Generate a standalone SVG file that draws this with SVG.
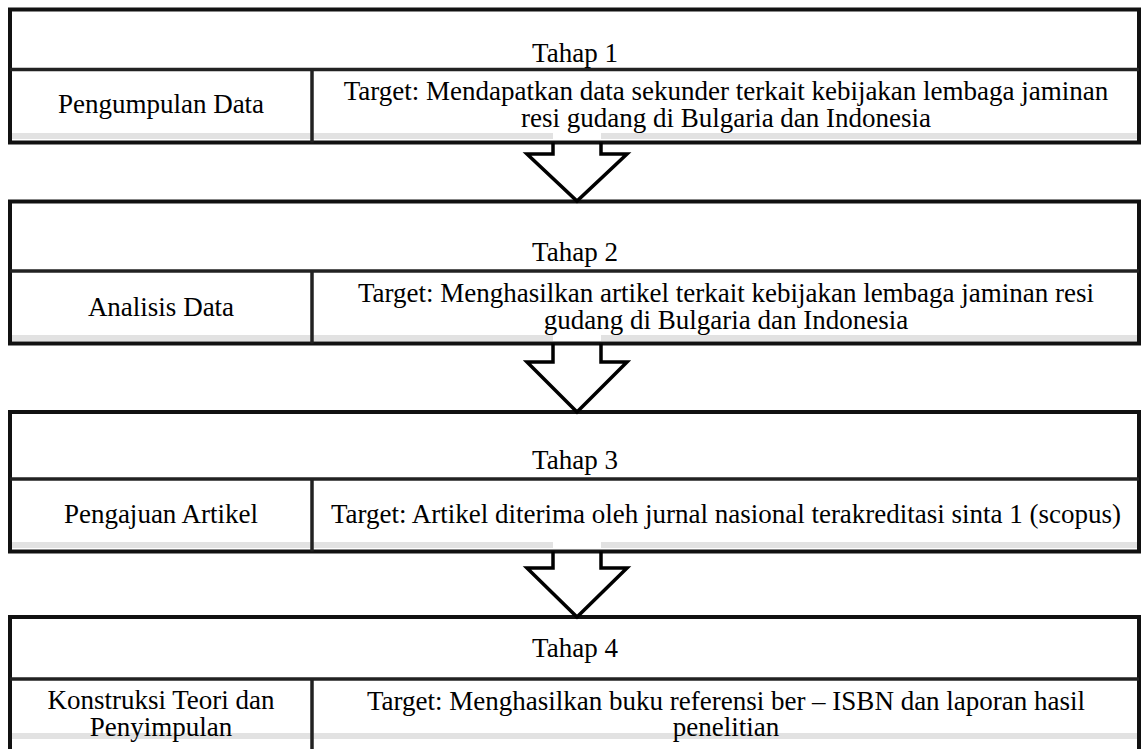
<svg xmlns="http://www.w3.org/2000/svg" width="1142" height="749" viewBox="0 0 1142 749">
<style>
.box{fill:#fff;stroke:#111;stroke-width:4}
.div{stroke:#222;stroke-width:3.5;fill:none}
.shade{fill:#e2e2e2}
.arrow{fill:none;stroke:#000;stroke-width:3.5;stroke-linejoin:miter}
text{font-family:"Liberation Serif","Times New Roman",serif;font-size:27px;fill:#000;text-anchor:middle}
</style>
<rect width="1142" height="749" fill="#fff"/>
<g id="tahap1">
<rect class="box" x="10" y="9.5" width="1129" height="133"/>
<rect class="shade" x="12" y="133" width="541" height="6"/>
<rect class="shade" x="601" y="133" width="536" height="6"/>
<line class="div" x1="10" y1="69.5" x2="1139" y2="69.5"/>
<line class="div" x1="312" y1="69.5" x2="312" y2="142.5"/>
<text x="575" y="62">Tahap 1</text>
<text x="161" y="113">Pengumpulan Data</text>
<text x="726" y="99.5">Target: Mendapatkan data sekunder terkait kebijakan lembaga jaminan</text>
<text x="726" y="126.5">resi gudang di Bulgaria dan Indonesia</text>
</g>
<g id="tahap2">
<rect class="box" x="10" y="201.5" width="1129" height="142"/>
<rect class="shade" x="12" y="335" width="541" height="6"/>
<rect class="shade" x="601" y="335" width="536" height="6"/>
<line class="div" x1="10" y1="271" x2="1139" y2="271"/>
<line class="div" x1="312" y1="271" x2="312" y2="343.5"/>
<text x="575" y="260.5">Tahap 2</text>
<text x="161" y="316">Analisis Data</text>
<text x="726" y="302">Target: Menghasilkan artikel terkait kebijakan lembaga jaminan resi</text>
<text x="726" y="329">gudang di Bulgaria dan Indonesia</text>
</g>
<g id="tahap3">
<rect class="box" x="10" y="412" width="1129" height="139.5"/>
<rect class="shade" x="12" y="542" width="541" height="6"/>
<rect class="shade" x="601" y="542" width="536" height="6"/>
<line class="div" x1="10" y1="479" x2="1139" y2="479"/>
<line class="div" x1="312" y1="479" x2="312" y2="551.5"/>
<text x="575" y="468.5">Tahap 3</text>
<text x="161" y="523">Pengajuan Artikel</text>
<text x="726" y="523">Target: Artikel diterima oleh jurnal nasional terakreditasi sinta 1 (scopus)</text>
</g>
<g id="tahap4">
<rect class="box" x="10" y="617" width="1129" height="160"/>
<rect class="shade" x="12" y="733" width="1125" height="6"/>
<line class="div" x1="10" y1="679" x2="1139" y2="679"/>
<line class="div" x1="312" y1="679" x2="312" y2="777"/>
<text x="575" y="657">Tahap 4</text>
<text x="161" y="709">Konstruksi Teori dan</text>
<text x="161" y="736">Penyimpulan</text>
<text x="726" y="710">Target: Menghasilkan buku referensi ber – ISBN dan laporan hasil</text>
<text x="726" y="736">penelitian</text>
</g>
<g id="connectors">
<path class="arrow" d="M553,142.5 V154 H527 L577,201 L627,154 H601 V142.5"/>
<path class="arrow" d="M553,343.5 V362 H527 L577,412 L627,362 H601 V343.5"/>
<path class="arrow" d="M553,551.5 V568 H527 L577,617 L627,568 H601 V551.5"/>
</g>
</svg>
